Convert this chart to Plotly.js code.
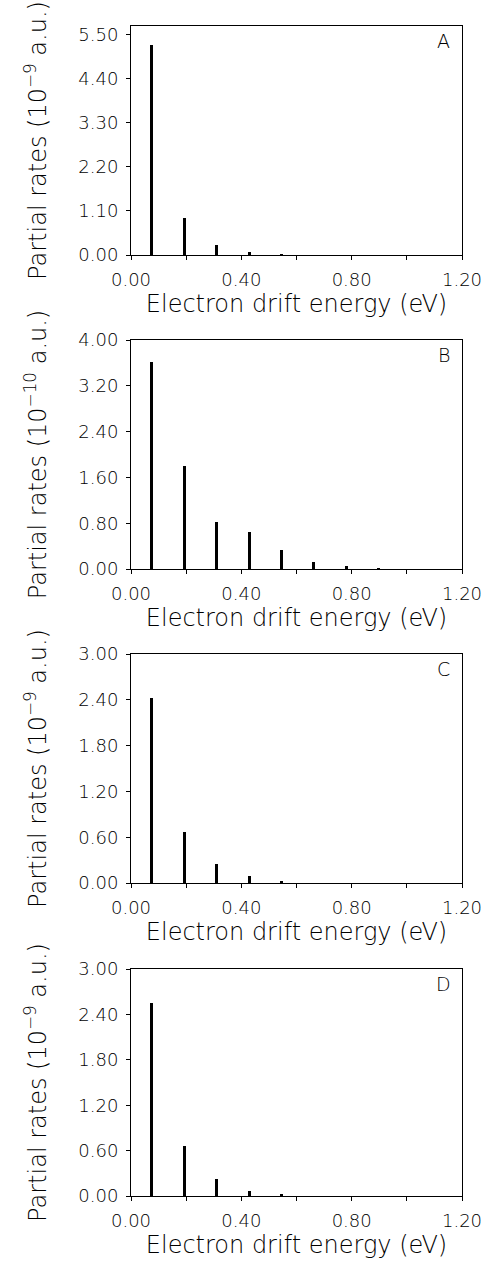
<!DOCTYPE html>
<html>
<head>
<meta charset="utf-8">
<script src="https://cdn.plot.ly/plotly-3.0.1.min.js"></script>
<style>html,body{margin:0;padding:0;background:#fff;}#chart{width:494px;height:1262px;}</style>
</head>
<body>
<div id="chart"></div>
<script>
// Electron drift energies of the resonance peaks (eV)
const energies = [0.075, 0.193, 0.310, 0.428, 0.545, 0.663, 0.780, 0.898, 1.015];
// Partial rates per panel
const ratesA = [5.25, 0.93, 0.25, 0.07, 0.015, 0.004, 0, 0, 0];   // 10^-9 a.u.
const ratesB = [3.61, 1.80, 0.82, 0.65, 0.33, 0.13, 0.045, 0.012, 0.005]; // 10^-10 a.u.
const ratesC = [2.43, 0.67, 0.25, 0.09, 0.03, 0.006, 0, 0, 0];   // 10^-9 a.u.
const ratesD = [2.55, 0.66, 0.22, 0.066, 0.02, 0.005, 0, 0, 0];  // 10^-9 a.u.
const panelLabels = ["A", "B", "C", "D"];
const yTitles = [
  "Partial rates (10<sup>−9</sup> a.u.)",
  "Partial rates (10<sup>−10</sup> a.u.)",
  "Partial rates (10<sup>−9</sup> a.u.)",
  "Partial rates (10<sup>−9</sup> a.u.)"
];
const yTicks = [
  [0, 1.1, 2.2, 3.3, 4.4, 5.5],
  [0, 0.8, 1.6, 2.4, 3.2, 4.0],
  [0, 0.6, 1.2, 1.8, 2.4, 3.0],
  [0, 0.6, 1.2, 1.8, 2.4, 3.0]
];
const xTicks = [0, 0.4, 0.8, 1.2];
const yMax = [5.72, 4.0, 3.0, 3.0];
const xTitle = "Electron drift energy (eV)";

const W = 494, H = 1262;
const FONT = "'DejaVu Sans', sans-serif";
const WT = 200;
const ink = "#000";
const xDom = [131 / W, 462 / W];
const pix = [[26, 255], [340, 569], [654, 883], [969, 1196]];
const series = [ratesA, ratesB, ratesC, ratesD];

const traces = [];
const layout = {
  width: W, height: H,
  margin: {l: 0, r: 0, t: 0, b: 0},
  paper_bgcolor: "#fff", plot_bgcolor: "#fff",
  showlegend: false,
  font: {family: FONT, color: ink, size: 18, weight: WT},
  annotations: [],
  bargap: 0
};

series.forEach((vals, i) => {
  const n = i === 0 ? "" : String(i + 1);
  traces.push({
    type: "bar", x: energies, y: vals, width: 0.011,
    marker: {color: "#000", line: {width: 0}},
    xaxis: "x" + n, yaxis: "y" + n, hoverinfo: "x+y"
  });
  const yd = [1 - pix[i][1] / H, 1 - pix[i][0] / H];
  layout["xaxis" + n] = {
    domain: xDom, anchor: "y" + n, range: [0, 1.2],
    tickvals: xTicks, ticktext: xTicks.map(v => v.toFixed(2)),
    ticks: "outside", ticklen: 4, tickcolor: ink, tickwidth: 1,
    minor: {dtick: 0.2, tick0: 0, ticks: "outside", ticklen: 4, tickcolor: ink, tickwidth: 1, showgrid: false},
    ticklabelstandoff: 4,
    showline: true, linecolor: ink, linewidth: 1, mirror: true,
    showgrid: false, zeroline: false,
    tickfont: {family: FONT, size: 18, color: ink, weight: WT},
    title: {text: xTitle, font: {family: FONT, size: 24, color: ink, weight: WT}, standoff: 6},
    automargin: false, fixedrange: true
  };
  layout["yaxis" + n] = {
    domain: yd, anchor: "x" + n, range: [0, yMax[i]],
    tickvals: yTicks[i], ticktext: yTicks[i].map(v => v.toFixed(2)),
    ticks: "outside", ticklen: 4, tickcolor: ink, tickwidth: 1,
    ticklabelstandoff: 4,
    showline: true, linecolor: ink, linewidth: 1, mirror: true,
    showgrid: false, zeroline: false,
    tickfont: {family: FONT, size: 18, color: ink, weight: WT},
    title: {text: yTitles[i], font: {family: FONT, size: 24, color: ink, weight: WT}, standoff: 24},
    automargin: false, fixedrange: true
  };
  layout.annotations.push({
    text: panelLabels[i], xref: "x" + n + " domain", yref: "y" + n + " domain",
    x: 0.945, y: 0.935, xanchor: "center", yanchor: "middle", showarrow: false,
    font: {family: FONT, size: 19, color: ink, weight: WT}
  });
});

Plotly.newPlot("chart", traces, layout, {staticPlot: true, displayModeBar: false});
</script>
</body>
</html>
